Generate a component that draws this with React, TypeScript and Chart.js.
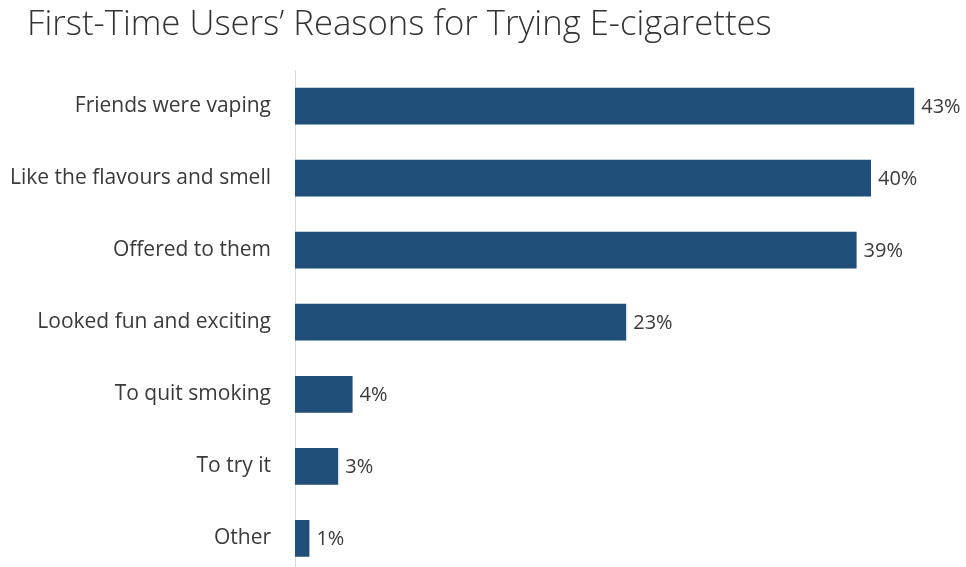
import React, { useEffect, useRef } from "react";
import { Chart, registerables } from "chart.js";

Chart.register(...registerables);

const TITLE = "First-Time Users\u2019 Reasons for Trying E-cigarettes";
const categories = [
  "Friends were vaping",
  "Like the flavours and smell",
  "Offered to them",
  "Looked fun and exciting",
  "To quit smoking",
  "To try it",
  "Other",
];
const values = [43, 40, 39, 23, 4, 3, 1];

const BAR_COLOR = "#1F4E79";
const TEXT_COLOR = "#3A3A3A";

const valueLabels = {
  id: "valueLabels",
  afterDatasetsDraw(chart: any) {
    const ctx = chart.ctx;
    const meta = chart.getDatasetMeta(0);
    ctx.save();
    ctx.font = "20px 'Open Sans'";
    ctx.fillStyle = TEXT_COLOR;
    ctx.textBaseline = "middle";
    ctx.textAlign = "left";
    meta.data.forEach((bar: any, i: number) => {
      ctx.fillText(values[i] + "%", bar.x + 7, bar.y + 1);
    });
    ctx.restore();
  },
};

const titlePlugin = {
  id: "leftTitle",
  afterDraw(chart: any) {
    const ctx = chart.ctx;
    ctx.save();
    ctx.font = "300 34.7px 'Open Sans'";
    ctx.fillStyle = "#333333";
    ctx.textBaseline = "alphabetic";
    ctx.textAlign = "left";
    ctx.fillText(TITLE, 27, 35);
    ctx.restore();
  },
};

export default function App() {
  const ref = useRef<HTMLCanvasElement>(null);
  useEffect(() => {
    if (!ref.current) return;
    const chart = new Chart(ref.current, {
      type: "bar",
      data: {
        labels: categories,
        datasets: [
          {
            data: values,
            backgroundColor: BAR_COLOR,
            borderWidth: 0,
            categoryPercentage: 1,
            barPercentage: 0.51,
          },
        ],
      },
      options: {
        indexAxis: "y",
        responsive: false,
        maintainAspectRatio: false,
        animation: false,
        layout: { padding: { left: 0, right: 23, top: 70, bottom: 0 } },
        plugins: {
          legend: { display: false },
          tooltip: { enabled: false },
          title: { display: false },
        },
        scales: {
          x: {
            display: false,
            min: 0,
            max: 45,
          },
          y: {
            afterFit(scale: any) {
              scale.width = 295;
            },
            grid: { display: false, drawTicks: false },
            border: { display: true, color: "#D9D9D9", width: 1 },
            ticks: {
              color: TEXT_COLOR,
              padding: 24,
              font: { family: "'Open Sans'", size: 21 },
            },
          },
        },
      },
      plugins: [valueLabels, titlePlugin],
    });
    return () => chart.destroy();
  }, []);
  return (
    <div style={{ position: "fixed", left: 0, top: 0, width: 966, height: 567, overflow: "hidden", background: "#fff" }}>
      <canvas ref={ref} width={966} height={611} style={{ display: "block", width: 966, height: 611 }} />
    </div>
  );
}
